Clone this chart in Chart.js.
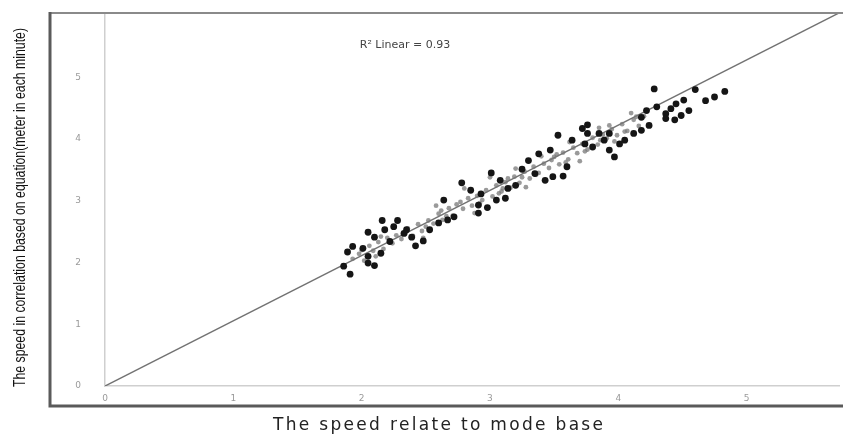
<!DOCTYPE html>
<html>
<head>
<meta charset="utf-8">
<script src="https://cdn.jsdelivr.net/npm/chart.js@4.4.1/dist/chart.umd.min.js"></script>
<style>
  html, body { margin: 0; padding: 0; background: #fff; overflow: hidden; }
  #wrap { width: 843px; height: 435px; position: relative; }
</style>
</head>
<body>
<div id="wrap"><canvas id="c" width="843" height="435"></canvas></div>
<script>
// Axis ticks
const xTicks = [0, 1, 2, 3, 4, 5];
const yTicks = [0, 1, 2, 3, 4, 5];

// Observations drawn as solid dark dots
const darkX = [1.93, 1.89, 2.01, 1.86, 1.91, 2.10, 2.05, 2.16, 2.28, 2.25, 2.18, 2.10, 2.05, 2.15, 2.33,
               2.39, 2.48, 2.42, 2.35, 2.53, 2.05, 2.64, 2.67, 2.72, 2.78, 2.85, 2.93, 3.01, 3.08, 2.91,
               2.98, 2.91, 3.05, 3.14, 3.20, 3.12, 3.25, 3.30, 3.38, 3.43, 3.49, 3.60, 3.53, 3.47, 3.35,
               3.72, 3.76, 3.74, 3.80, 3.85, 3.89, 3.93, 3.97, 4.05, 4.12, 4.18, 4.24, 4.22, 4.28, 4.30,
               4.37, 4.41, 4.45, 4.51, 4.60, 4.49, 4.55, 4.68, 4.75, 4.83, 4.37, 4.18, 4.01, 3.76, 3.64,
               3.93, 2.60, 2.22, 3.57, 4.44];
const darkY = [2.26, 2.17, 2.23, 1.94, 1.81, 1.95, 2.49, 2.68, 2.68, 2.58, 2.53, 2.41, 2.10, 2.15, 2.47,
               2.41, 2.35, 2.27, 2.53, 2.53, 1.99, 3.01, 2.69, 2.74, 3.29, 3.17, 3.11, 3.45, 3.33, 2.80,
               2.89, 2.93, 3.01, 3.20, 3.25, 3.04, 3.51, 3.65, 3.76, 3.33, 3.39, 3.55, 4.06, 3.82, 3.44,
               4.17, 4.23, 3.92, 3.87, 4.09, 3.98, 3.82, 3.71, 3.98, 4.09, 4.14, 4.22, 4.46, 4.81, 4.52,
               4.41, 4.49, 4.57, 4.63, 4.80, 4.38, 4.46, 4.62, 4.68, 4.77, 4.33, 4.35, 3.92, 4.09, 3.98,
               4.09, 2.64, 2.34, 3.40, 4.31];

// Observations drawn as small grey dots
const lightX = [1.93, 1.98, 2.02, 2.06, 2.09, 2.13, 2.17, 2.20, 2.24, 2.27, 2.31, 2.36, 2.40, 2.44, 2.47,
                2.52, 2.56, 2.60, 2.63, 2.68, 2.71, 2.74, 2.79, 2.83, 2.86, 2.90, 2.94, 2.97, 3.02, 3.05,
                3.09, 3.12, 3.16, 3.19, 3.23, 3.27, 3.31, 3.34, 3.38, 3.42, 3.46, 3.50, 3.54, 3.57, 3.61,
                3.65, 3.68, 3.72, 3.76, 3.80, 3.84, 3.88, 3.91, 3.95, 3.99, 4.03, 4.07, 4.12, 4.16, 4.20,
                2.25, 2.58, 2.80, 3.00, 3.20, 3.40, 3.62, 3.85, 4.10, 2.48, 2.88, 3.28, 3.70,
                2.00, 2.11, 2.34, 2.50, 2.66, 2.77, 2.92, 3.07, 3.14, 3.25, 3.36, 3.48, 3.59, 3.74, 3.86,
                3.97, 4.05, 4.14, 2.15, 2.62, 3.10, 3.52, 3.93];
const lightY = [2.06, 2.14, 2.03, 2.27, 2.19, 2.33, 2.22, 2.40, 2.31, 2.44, 2.38, 2.55, 2.43, 2.62, 2.51,
                2.68, 2.63, 2.79, 2.69, 2.88, 2.76, 2.94, 2.87, 3.04, 2.92, 3.08, 3.01, 3.17, 3.07, 3.25,
                3.15, 3.30, 3.21, 3.39, 3.29, 3.47, 3.36, 3.55, 3.45, 3.60, 3.53, 3.71, 3.59, 3.78, 3.67,
                3.86, 3.77, 3.92, 3.83, 4.02, 3.91, 4.07, 4.01, 4.16, 4.06, 4.24, 4.13, 4.31, 4.21, 4.37,
                2.58, 2.92, 3.20, 3.38, 3.52, 3.72, 3.95, 4.18, 4.42, 2.40, 2.80, 3.22, 3.64,
                2.20, 2.10, 2.47, 2.58, 2.75, 2.98, 2.96, 3.12, 3.36, 3.38, 3.42, 3.66, 3.62, 3.80, 3.98,
                3.96, 4.12, 4.36, 2.42, 2.84, 3.20, 3.75, 4.22];

// Fitted line end points
const fitX = [0, 5.72];
const fitY = [0, 6.04];

const xTitle = 'The speed relate to mode base';
const yTitle = 'The speed in correlation based on equation(meter in each minute)';
const fitLabel = 'R\u00B2 Linear = 0.93';

const toPoints = (xs, ys) => xs.map((x, i) => ({ x: x, y: ys[i] }));

// Outer frame, fit label and both axis titles
const decorations = {
  id: 'decorations',
  afterDraw(chart) {
    const { ctx, chartArea: a } = chart;
    ctx.save();
    const left = a.left - 55, bottom = a.bottom + 20, top = a.top;
    ctx.strokeStyle = '#8a8a8a';
    ctx.lineWidth = 2;
    ctx.beginPath();
    ctx.moveTo(left, top);
    ctx.lineTo(chart.width + 5, top);
    ctx.stroke();
    ctx.strokeStyle = '#5a5a5a';
    ctx.lineWidth = 3;
    ctx.beginPath();
    ctx.moveTo(left, top - 1);
    ctx.lineTo(left, bottom);
    ctx.lineTo(chart.width + 5, bottom);
    ctx.stroke();

    // fit annotation
    ctx.fillStyle = '#444';
    ctx.font = '11px "DejaVu Sans"';
    ctx.textAlign = 'center';
    ctx.textBaseline = 'middle';
    ctx.fillText(fitLabel, a.left + 300, a.top + 32);

    // horizontal axis title, letter-spaced
    ctx.save();
    ctx.fillStyle = '#222';
    ctx.font = '17px "DejaVu Sans"';
    ctx.textAlign = 'left';
    ctx.textBaseline = 'alphabetic';
    const w = ctx.measureText(xTitle).width;
    const sp = Math.max(0, (330 - w) / (xTitle.length - 1));
    ctx.letterSpacing = sp + 'px';
    ctx.fillText(xTitle, 273, bottom + 24);
    ctx.restore();

    // vertical axis title, condensed
    ctx.save();
    ctx.fillStyle = '#111';
    ctx.font = '16px "Liberation Sans", Arial, sans-serif';
    ctx.textAlign = 'center';
    ctx.textBaseline = 'alphabetic';
    const wy = ctx.measureText(yTitle).width;
    ctx.translate(25, 207.5);
    ctx.rotate(-Math.PI / 2);
    ctx.scale(359 / wy, 1);
    ctx.fillText(yTitle, 0, 0);
    ctx.restore();

    ctx.restore();
  }
};

new Chart(document.getElementById('c'), {
  type: 'scatter',
  data: {
    datasets: [
      {
        type: 'line',
        data: toPoints(fitX, fitY),
        borderColor: '#727272',
        borderWidth: 1.5,
        pointRadius: 0,
        fill: false,
        order: 3
      },
      {
        data: toPoints(lightX, lightY),
        backgroundColor: 'rgba(120,120,120,0.75)',
        borderWidth: 0,
        pointRadius: 2.4,
        order: 2
      },
      {
        data: toPoints(darkX, darkY),
        backgroundColor: '#151515',
        borderWidth: 0,
        pointRadius: 3.4,
        order: 1
      }
    ]
  },
  options: {
    responsive: false,
    animation: false,
    layout: { padding: { top: 13, right: 0, bottom: 0, left: 0 } },
    plugins: { legend: { display: false }, tooltip: { enabled: false } },
    scales: {
      x: {
        type: 'linear',
        min: 0,
        max: 5.72,
        afterBuildTicks: s => { s.ticks = xTicks.map(v => ({ value: v })); },
        afterFit: s => { s.height = 49; s.paddingLeft = 0; s.paddingRight = 0; },
        grid: { display: false, drawTicks: false },
        border: { display: true, color: '#cfcfcf', width: 1.5 },
        ticks: { color: '#9a9a9a', font: { family: 'DejaVu Sans', size: 9 }, padding: 7, maxRotation: 0 },
        title: { display: false }
      },
      y: {
        type: 'linear',
        min: 0,
        max: 6.04,
        afterBuildTicks: s => { s.ticks = yTicks.map(v => ({ value: v })); },
        afterFit: s => { s.width = 105; s.paddingTop = 0; s.paddingBottom = 0; },
        grid: { display: false, drawTicks: false },
        border: { display: true, color: '#cfcfcf', width: 1.5 },
        ticks: { color: '#9a9a9a', font: { family: 'DejaVu Sans', size: 9 }, padding: 24 },
        title: { display: false }
      }
    }
  },
  plugins: [decorations]
});
</script>
</body>
</html>
